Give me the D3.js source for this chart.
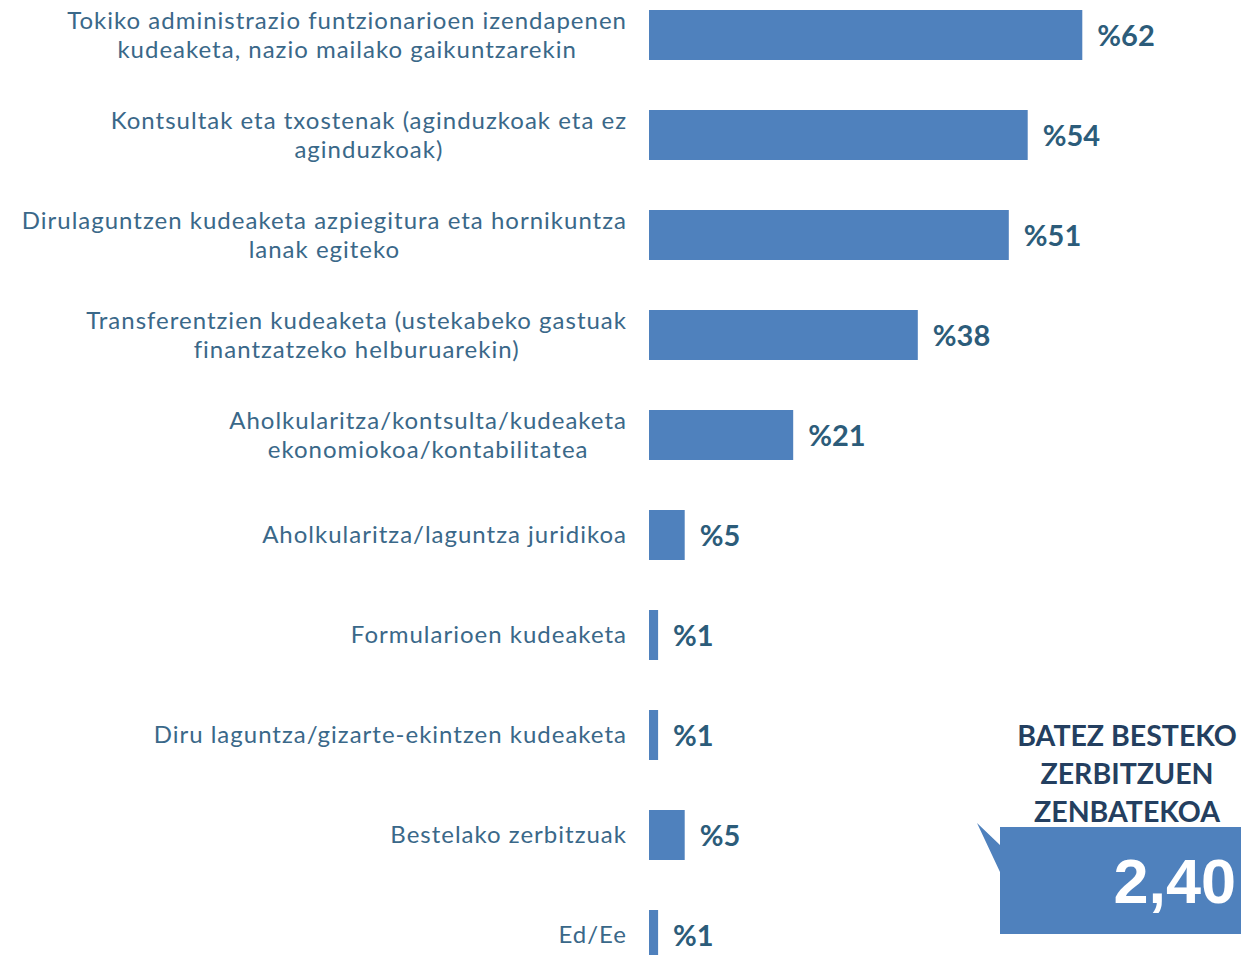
<!DOCTYPE html>
<html>
<head>
<meta charset="utf-8">
<script src="https://cdn.jsdelivr.net/npm/d3@7"></script>
<style>
  body { margin: 0; background: #fff; }
  svg { display: block; }
</style>
</head>
<body>
<svg id="chart" width="1241" height="955"></svg>
<script>
// categories, one entry per line of the label
var categories = [
  ["Tokiko administrazio funtzionarioen izendapenen", "kudeaketa, nazio mailako gaikuntzarekin"],
  ["Kontsultak eta txostenak (aginduzkoak eta ez", "aginduzkoak)"],
  ["Dirulaguntzen kudeaketa azpiegitura eta hornikuntza", "lanak egiteko"],
  ["Transferentzien kudeaketa (ustekabeko gastuak", "finantzatzeko helburuarekin)"],
  ["Aholkularitza/kontsulta/kudeaketa", "ekonomiokoa/kontabilitatea"],
  ["Aholkularitza/laguntza juridikoa"],
  ["Formularioen kudeaketa"],
  ["Diru laguntza/gizarte-ekintzen kudeaketa"],
  ["Bestelako zerbitzuak"],
  ["Ed/Ee"]
];
// percentages (bar lengths, labels rounded)
var values = [61.9, 54.1, 51.4, 38.4, 20.6, 5.1, 1.3, 1.3, 5.1, 1.3];

var calloutTitle = ["BATEZ BESTEKO", "ZERBITZUEN", "ZENBATEKOA"];
var calloutValue = "2,40";

var barColor = "#4f81bd";
var labelColor = "#3a6889";
var valueColor = "#2c5c7a";

var svg = d3.select("#chart");

var ids = d3.range(categories.length);

var x = d3.scaleLinear().domain([0, 100]).range([649, 1349]);
var y = d3.scaleBand().domain(ids).range([-15, 985])
          .paddingInner(0.5).paddingOuter(0.25);

// bars
svg.append("g").selectAll("rect")
  .data(ids)
  .enter().append("rect")
  .attr("x", x(0))
  .attr("y", function(i){ return y(i); })
  .attr("width", function(i){ return x(values[i]) - x(0); })
  .attr("height", y.bandwidth())
  .attr("fill", barColor);

// value labels
svg.append("g").selectAll("text")
  .data(ids)
  .enter().append("text")
  .attr("x", function(i){ return x(values[i]) + 15; })
  .attr("y", function(i){ return y(i) + y.bandwidth()/2 + 11; })
  .attr("font-family", "Lato, 'Open Sans', sans-serif")
  .attr("font-weight", "bold")
  .attr("font-size", 29)
  .attr("fill", valueColor)
  .text(function(i){ return "%" + Math.round(values[i]); });

// category labels: block right aligned, lines centred within block
var labelRight = 627;
var lineH = 29;
var labels = svg.append("g")
  .attr("font-family", "Lato, 'Open Sans', sans-serif")
  .attr("font-size", 24)
  .attr("letter-spacing", 1)
  .attr("fill", labelColor);

ids.forEach(function(i){
  var lines = categories[i];
  var cy = y(i) + y.bandwidth()/2;
  var t = labels.append("text").attr("text-anchor", "middle");
  lines.forEach(function(l, k){
    t.append("tspan")
      .attr("y", cy + (k - (lines.length - 1)/2) * lineH + 8)
      .text(l);
  });
  // widest line defines the block
  var w = 0;
  t.selectAll("tspan").each(function(){ w = Math.max(w, this.getComputedTextLength()); });
  t.selectAll("tspan").attr("x", labelRight - w/2);
});

// callout box with its tail
svg.append("path")
  .attr("d", "M1000,827 L1241,827 L1241,934 L1000,934 L1000,872 L977,823 L1000,845 Z")
  .attr("fill", barColor);

svg.append("text")
  .attr("x", 1236)
  .attr("y", 903)
  .attr("text-anchor", "end")
  .attr("font-family", "'Liberation Sans', Arial, sans-serif")
  .attr("font-weight", "bold")
  .attr("font-size", 63)
  .attr("fill", "#fff")
  .text(calloutValue);

var title = svg.append("text")
  .attr("text-anchor", "middle")
  .attr("font-family", "Lato, 'Open Sans', sans-serif")
  .attr("font-weight", "bold")
  .attr("font-size", 28.5)
  .attr("fill", "#243f60");
calloutTitle.forEach(function(l, k){
  title.append("tspan").attr("x", 1127).attr("y", 746 + k * 38).text(l);
});
</script>
</body>
</html>
